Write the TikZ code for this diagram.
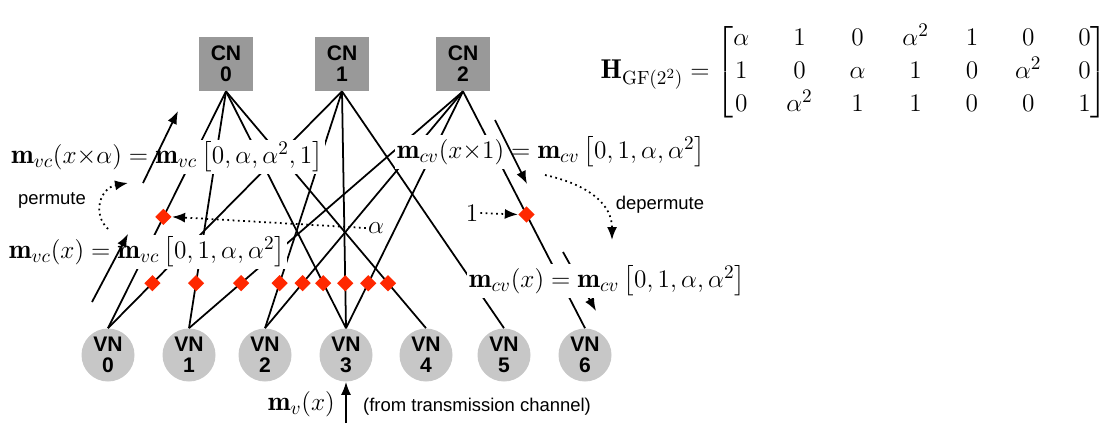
\documentclass[tikz,border=0pt]{standalone}
\usepackage{amsmath}
\usepackage{fontspec}
\setsansfont{Liberation Sans}
\usetikzlibrary{arrows.meta, positioning, shapes.geometric}
\definecolor{dred}{RGB}{255,40,0}

\begin{document}
\begin{tikzpicture}[x=0.2mm, y=-0.2mm,
    cn/.style={fill=black!40, minimum size=10.8mm, inner sep=0pt, align=center, font=\fontsize{12}{12}\selectfont\sffamily\bfseries},
    vn/.style={circle, fill=black!22, minimum size=10.6mm, inner sep=0pt, align=center, font=\fontsize{12}{12}\selectfont\sffamily\bfseries},
    dmd/.style={diamond, fill=dred, minimum size=3.3mm, inner sep=0pt},
    edge/.style={line width=1pt},
    mth/.style={font=\fontsize{15.5}{18.6}\selectfont},
    lbl/.style={mth, fill=white, inner sep=1pt},
    txt/.style={font=\fontsize{10.5}{12}\selectfont\sffamily},
    arr/.style={-{Latex[length=2.6mm,width=2mm]}, line width=1pt},
    dotarr/.style={arr, dotted}
]
\useasboundingbox (0,0) rectangle (1110,423);

% check nodes and variable nodes
\node[cn] (cn0) at (226,64) {CN\\0};
\node[cn] (cn1) at (342,64) {CN\\1};
\node[cn] (cn2) at (463,64) {CN\\2};
\foreach \i/\x in {0/108,1/189,2/265,3/346,4/426,5/504,6/585}
    \node[vn] (vn\i) at (\x,355) {VN\\\i};

% Tanner graph edges
\foreach \v/\c in {0/0,0/1,1/0,1/2,2/1,2/2,3/0,3/1,3/2,4/0,5/1,6/2}
    \draw[edge] (vn\v.north) -- (cn\c.south);

% permutation points
\foreach \v/\c in {0/1,1/0,1/2,2/1,2/2,3/0,3/1,3/2,4/0}
    \path (vn\v.north) -- (cn\c.south) node[dmd, pos=0.19] (d\v\c) {};
\path (vn0.north) -- (cn0.south) node[dmd, pos=0.47] (d00) {};
\path (vn6.north) -- (cn2.south) node[dmd, pos=0.48] (d62) {};

\coordinate (cvlo0) at (563,252);
\coordinate (cvlo1) at (596,311);
\draw[arr] (cvlo0) -- (cvlo1);

% messages
\node[lbl] (vcup) at (167,157) {$\mathbf{m}_{vc}(x{\times}\alpha) = \mathbf{m}_{vc}\left[0,\alpha,\alpha^2,1\right]$};
\node[lbl] (vclo) at (147,252) {$\mathbf{m}_{vc}(x) = \mathbf{m}_{vc}\left[0,1,\alpha,\alpha^2\right]$};
\node[lbl] (cvup) at (551,152) {$\mathbf{m}_{cv}(x{\times}1) = \mathbf{m}_{cv}\left[0,1,\alpha,\alpha^2\right]$};
\node[lbl] (cvlo) at (607,281) {$\mathbf{m}_{cv}(x) = \mathbf{m}_{cv}\left[0,1,\alpha,\alpha^2\right]$};

\node[mth, anchor=east, inner sep=0pt] (hmat) at (1108,72)
    {\setlength{\arraycolsep}{10.5pt}%
    $\mathbf{H}_{\mathrm{GF}(2^2)} = \begin{bmatrix}
    \alpha & 1 & 0 & \alpha^2 & 1 & 0 & 0\\
    1 & 0 & \alpha & 1 & 0 & \alpha^2 & 0\\
    0 & \alpha^2 & 1 & 1 & 0 & 0 & 1
    \end{bmatrix}$};

% message flow
\coordinate (vclo2) at (92,302);
\coordinate (vclo3) at (128,234);
\coordinate (vcup0) at (143,183);
\coordinate (vcup1) at (178,111);
\coordinate (cvup0) at (495,120);
\coordinate (cvup1) at (527,184);
\draw[arr] (vclo2) -- (vclo3);
\draw[arr] (vcup0) -- (vcup1);
\draw[arr] (cvup0) -- (cvup1);

\coordinate (pm0) at (108,229);
\coordinate (pm1) at (128,183);
\draw[dotarr] (pm0) .. controls (92,214) and (100,188) .. (pm1);
\node[txt] (perm) at (52,200) {permute};

\coordinate (dp0) at (545,175);
\coordinate (dp1) at (612,240);
\draw[dotarr] (dp0) .. controls (590,185) and (612,205) .. (dp1);
\node[txt] (deperm) at (660,205) {depermute};

\node[mth, inner sep=1pt] (alab) at (376,228) {$\alpha$};
\draw[dotarr] (alab.west) -- (d00.east);
\node[mth, inner sep=1pt] (onelab) at (472,213) {$1$};
\draw[dotarr] (onelab.east) -- (d62.west);

% channel input
\coordinate (chin) at (346,423);
\draw[arr] (chin) -- (vn3.south);
\node[mth, anchor=east] (mvx) at (341,404) {$\mathbf{m}_v(x)$};
\node[txt, anchor=west] (chtxt) at (357,407) {(from transmission channel)};
\end{tikzpicture}
\end{document}
